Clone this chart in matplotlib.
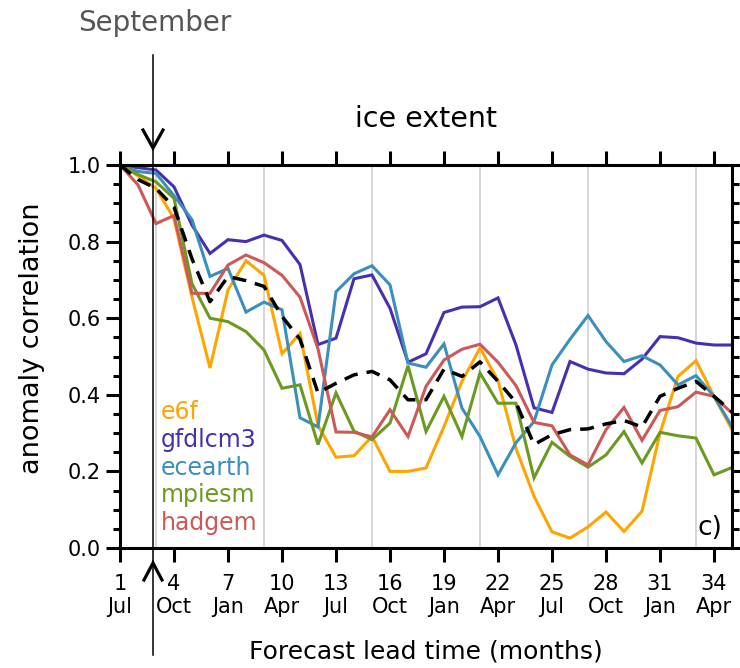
import matplotlib
matplotlib.use("Agg")
import matplotlib.pyplot as plt
from matplotlib.lines import Line2D
from matplotlib.ticker import MultipleLocator

# forecast lead time in months (lead 1 = July start)
lead = list(range(1, 36))
tick_leads = list(range(1, 36, 3))
tick_months = ["Jul", "Oct", "Jan", "Apr"] * 3
sept_leads = [3, 9, 15, 21, 27, 33]

e6f = [1.0, 0.972, 0.939, 0.86, 0.655, 0.47, 0.674, 0.75, 0.712, 0.507,
       0.56, 0.32, 0.237, 0.241, 0.291, 0.200, 0.200, 0.209, 0.317, 0.435,
       0.522, 0.437, 0.26, 0.135, 0.042, 0.026, 0.055, 0.094, 0.043, 0.096,
       0.30, 0.448, 0.489, 0.396, 0.309]
gfdlcm3 = [1.0, 0.993, 0.987, 0.943, 0.843, 0.769, 0.805, 0.80, 0.817, 0.803,
           0.74, 0.531, 0.548, 0.703, 0.713, 0.626, 0.485, 0.507, 0.615, 0.629,
           0.630, 0.653, 0.530, 0.366, 0.354, 0.487, 0.467, 0.457, 0.455, 0.493,
           0.552, 0.549, 0.535, 0.530, 0.530]
ecearth = [1.0, 0.983, 0.978, 0.92, 0.857, 0.709, 0.73, 0.616, 0.642, 0.622,
           0.34, 0.316, 0.669, 0.716, 0.737, 0.687, 0.483, 0.472, 0.533, 0.365,
           0.291, 0.191, 0.275, 0.33, 0.478, 0.545, 0.607, 0.539, 0.487, 0.502,
           0.478, 0.426, 0.450, 0.396, 0.317]
mpiesm = [1.0, 0.975, 0.956, 0.913, 0.69, 0.60, 0.591, 0.565, 0.517, 0.417,
          0.426, 0.27, 0.405, 0.305, 0.283, 0.326, 0.476, 0.304, 0.396, 0.291,
          0.457, 0.378, 0.378, 0.183, 0.276, 0.239, 0.211, 0.243, 0.304, 0.222,
          0.302, 0.293, 0.287, 0.191, 0.210]
hadgem = [1.0, 0.948, 0.847, 0.868, 0.665, 0.665, 0.739, 0.765, 0.745, 0.712,
          0.655, 0.52, 0.303, 0.302, 0.290, 0.361, 0.291, 0.422, 0.491, 0.519,
          0.532, 0.485, 0.424, 0.328, 0.319, 0.243, 0.217, 0.309, 0.367, 0.281,
          0.359, 0.369, 0.407, 0.396, 0.352]
ens_mean = [1.0, 0.962, 0.939, 0.89, 0.755, 0.643, 0.709, 0.698, 0.683, 0.605,
            0.545, 0.405, 0.43, 0.452, 0.461, 0.439, 0.387, 0.387, 0.467, 0.448,
            0.486, 0.435, 0.38, 0.270, 0.296, 0.309, 0.311, 0.324, 0.333, 0.316,
            0.396, 0.417, 0.435, 0.396, 0.356]

models = [
    ("e6f", e6f, "#FFA500"),
    ("gfdlcm3", gfdlcm3, "#4630B0"),
    ("ecearth", ecearth, "#3A8FBC"),
    ("mpiesm", mpiesm, "#6A9A1F"),
    ("hadgem", hadgem, "#CD5858"),
]

plt.rcParams["font.family"] = "DejaVu Sans"

fig = plt.figure(figsize=(7.4, 6.68), dpi=100)
ax = fig.add_axes([120 / 740, 1 - 548 / 668, 612 / 740, 383 / 668])

# September reference lines
for s in sept_leads:
    ax.axvline(s, color="#d4d4d4", lw=1.3, zorder=0)

for name, vals, col in models:
    ax.plot(lead, vals, color=col, lw=2.2, solid_joinstyle="miter")
ax.plot(lead, ens_mean, color="black", lw=2.5, dashes=(4, 2.6))

ax.set_xlim(1, 35)
ax.set_ylim(0, 1)
ax.set_xticks(tick_leads)
ax.set_xticklabels([f"{l}\n{m}" for l, m in zip(tick_leads, tick_months)],
                   fontsize=15, linespacing=1.15)
ax.yaxis.set_major_locator(MultipleLocator(0.2))
ax.yaxis.set_minor_locator(MultipleLocator(0.05))
ax.set_yticklabels([f"{v:.1f}" for v in ax.get_yticks()], fontsize=15)
ax.tick_params(axis="both", which="major", direction="out", length=10,
               width=2.2, pad=4)
ax.tick_params(axis="y", which="minor", direction="out", length=5, width=2.2)
ax.tick_params(top=True, right=True, which="both")
ax.tick_params(axis="x", which="major", pad=9)
for sp in ax.spines.values():
    sp.set_linewidth(2.2)

# model labels in their line colours
for i, (name, vals, col) in enumerate(models):
    ax.text(0.067, 0.336 - i * 0.0724, name, color=col, fontsize=17,
            transform=ax.transAxes, va="baseline", ha="left")
ax.text(0.984, 0.035, "c)", fontsize=19, transform=ax.transAxes,
        ha="right", va="baseline")

fig.text(426 / 740, 1 - 127 / 668, "ice extent", fontsize=20.5,
         ha="center", va="baseline")
fig.text(155 / 740, 1 - 31 / 668, "September", fontsize=20, color="#555555",
         ha="center", va="baseline")
fig.text(426 / 740, 1 - 658 / 668, "Forecast lead time (months)", fontsize=18,
         ha="center", va="baseline")
fig.text(32 / 740, 1 - 338 / 668, "anomaly correlation", fontsize=19.5,
         rotation=90, ha="center", va="center")

# start-month marker with arrowheads above and below the panel
xs = 153
fig.add_artist(Line2D([xs, xs], [668 - 55, 668 - 655], color="black", lw=1.1,
                      transform=None))
fig.add_artist(Line2D([xs - 10, xs, xs + 10], [668 - 130, 668 - 148, 668 - 130],
                      color="black", lw=2.3, transform=None,
                      solid_joinstyle="miter"))
fig.add_artist(Line2D([xs - 9, xs, xs + 9], [668 - 580, 668 - 563, 668 - 580],
                      color="black", lw=2.3, transform=None,
                      solid_joinstyle="miter"))

fig.savefig("out.png", dpi=100)
